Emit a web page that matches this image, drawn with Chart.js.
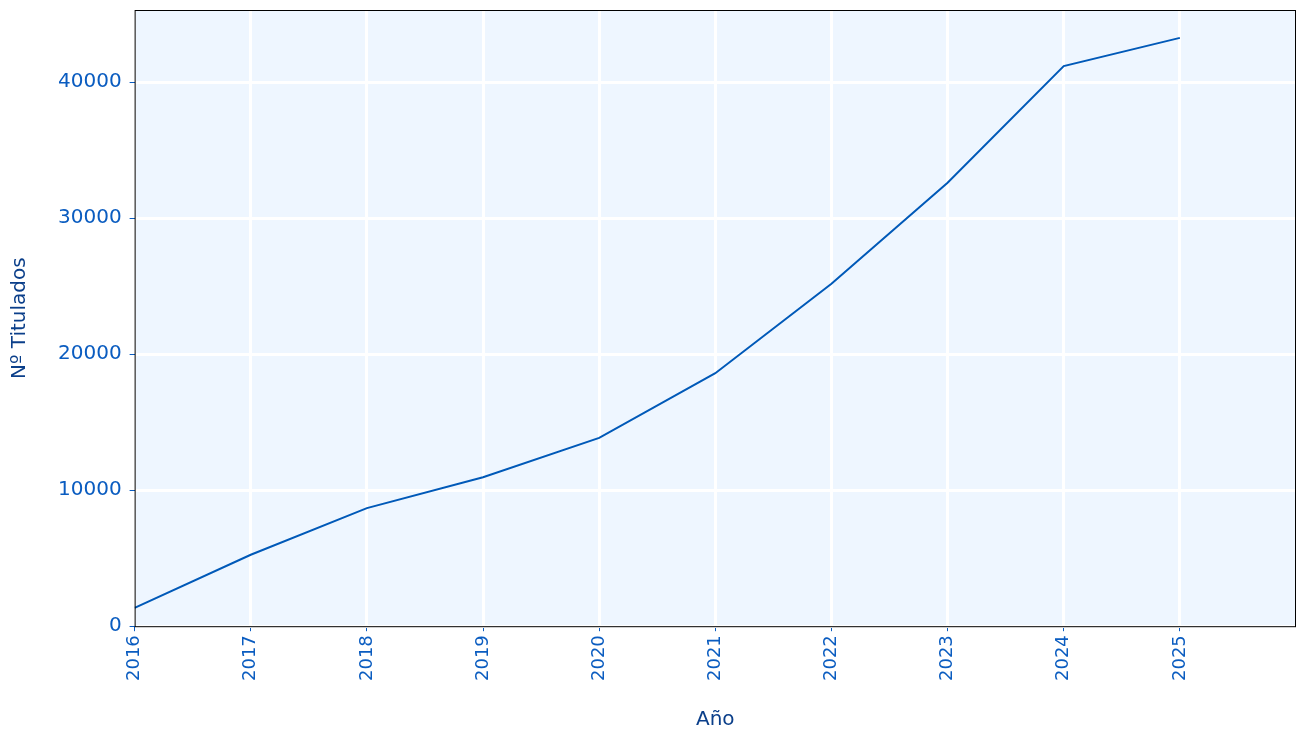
<!DOCTYPE html>
<html>
<head>
<meta charset="utf-8">
<script src="https://cdn.jsdelivr.net/npm/chart.js@4/dist/chart.umd.min.js"></script>
<style>
  html, body { margin: 0; padding: 0; background: #fff; }
  #wrap { width: 1306px; height: 739px; }
</style>
</head>
<body>
<div id="wrap"><canvas id="lineChart"></canvas></div>
<script>
const years = [2016, 2017, 2018, 2019, 2020, 2021, 2022, 2023, 2024, 2025];
const titulados = [1340, 5250, 8680, 10950, 13840, 18600, 25180, 32600, 41180, 43250];
const yTicks = [0, 10000, 20000, 30000, 40000];

const tickBlue = '#0a5cc0';
const titleBlue = '#0b3f8a';

// fondo y marco del area de trazado
const plotFrame = {
  id: 'plotFrame',
  beforeDraw(chart) {
    const a = chart.chartArea, c = chart.ctx;
    c.save();
    c.fillStyle = '#eef6ff';
    c.fillRect(a.left, a.top, a.right - a.left, a.bottom - a.top);
    c.restore();
  },
  afterDraw(chart) {
    const a = chart.chartArea, c = chart.ctx;
    c.save();
    c.strokeStyle = '#000';
    c.lineWidth = 1;
    c.strokeRect(a.left + 0.5, a.top + 0.5, a.right - a.left - 1, a.bottom - a.top);
    c.restore();
  }
};

const ctx = document.getElementById('lineChart').getContext('2d');
new Chart(ctx, {
  type: 'line',
  data: {
    datasets: [{
      label: 'Nº Titulados',
      data: years.map((y, i) => ({ x: y, y: titulados[i] })),
      borderColor: '#0059b8',
      borderWidth: 2,
      pointRadius: 0,
      tension: 0,
      fill: false
    }]
  },
  options: {
    responsive: true,
    maintainAspectRatio: false,
    animation: false,
    layout: { padding: { top: 10, right: 10, bottom: 7, left: 8 } },
    plugins: {
      legend: { display: false },
      tooltip: { enabled: false }
    },
    scales: {
      x: {
        type: 'linear',
        min: 2016,
        max: 2026,
        afterBuildTicks: axis => { axis.ticks = years.map(v => ({ value: v })); },
        ticks: {
          color: tickBlue,
          font: { family: 'DejaVu Sans', size: 18 },
          minRotation: 90,
          maxRotation: 90,
          padding: 4,
          callback: v => String(v)
        },
        grid: { color: '#ffffff', lineWidth: 3, tickColor: tickBlue, tickLength: 5, tickWidth: 1 },
        border: { display: false },
        title: {
          display: true,
          text: 'Año',
          color: titleBlue,
          font: { family: 'DejaVu Sans', size: 20 },
          padding: { top: 23, bottom: 0 }
        }
      },
      y: {
        min: 0,
        max: 45300,
        afterBuildTicks: axis => { axis.ticks = yTicks.map(v => ({ value: v })); },
        afterFit: axis => { axis.paddingTop = 0; },
        ticks: {
          color: tickBlue,
          font: { family: 'DejaVu Sans', size: 20 },
          padding: 8,
          callback: v => String(v)
        },
        grid: { color: '#ffffff', lineWidth: 3, tickColor: tickBlue, tickLength: 5, tickWidth: 1 },
        border: { display: false },
        title: {
          display: true,
          text: 'Nº Titulados',
          color: titleBlue,
          font: { family: 'DejaVu Sans', size: 20 },
          padding: { top: 0, bottom: 18 }
        }
      }
    }
  },
  plugins: [plotFrame]
});
</script>
</body>
</html>
